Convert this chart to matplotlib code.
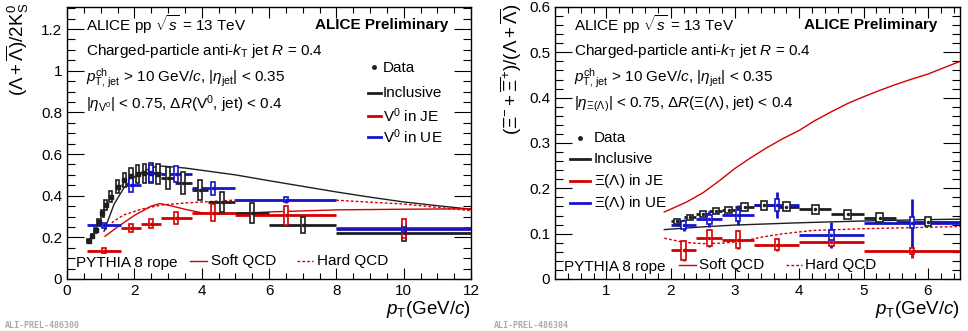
import matplotlib
matplotlib.use('Agg')
import matplotlib.pyplot as plt
from matplotlib.patches import Rectangle
from matplotlib.ticker import MultipleLocator
import numpy as np

plt.rcParams['font.family'] = ['Liberation Sans', 'DejaVu Sans']
plt.rcParams['mathtext.fontset'] = 'custom'
plt.rcParams['mathtext.rm'] = 'Liberation Sans'
plt.rcParams['mathtext.it'] = 'Liberation Sans:italic'
plt.rcParams['mathtext.bf'] = 'Liberation Sans:bold'

BLACK = '#1e1e1e'
RED = '#d40000'
BLUE = '#1414cc'

# ---------------- left panel: Lambda / 2K0S ----------------
# inclusive, fine low-pT bins
x_inc_lo = [0.65, 0.75, 0.85, 0.95, 1.05, 1.15, 1.3, 1.5, 1.7, 1.9, 2.1, 2.3, 2.5, 2.7]
y_inc_lo = [0.183, 0.206, 0.235, 0.275, 0.315, 0.355, 0.395, 0.443, 0.475, 0.494, 0.504, 0.507, 0.510, 0.504]
s_inc_lo = [0.008, 0.01, 0.012, 0.015, 0.018, 0.022, 0.026, 0.03, 0.034, 0.038, 0.042, 0.045, 0.047, 0.048]
# inclusive, wide high-pT bins
x_inc_hi = [3.0, 3.45, 3.95, 4.6, 5.5, 7.0, 10.0]
xe_inc_hi = [0.2, 0.25, 0.25, 0.4, 0.5, 1.0, 2.0]
y_inc_hi = [0.485, 0.46, 0.427, 0.371, 0.315, 0.26, 0.222]
e_inc_hi = [0.008, 0.008, 0.01, 0.01, 0.012, 0.015, 0.02]
s_inc_hi = [0.055, 0.052, 0.05, 0.048, 0.048, 0.04, 0.04]
# V0 in JE / UE
x_v0 = [1.1, 1.9, 2.5, 3.25, 4.35, 6.5, 10.0]
xe_v0 = [0.5, 0.3, 0.3, 0.45, 0.65, 1.5, 2.0]
y_v0_ue = [0.257, 0.452, 0.507, 0.504, 0.435, 0.380, 0.239]
e_v0_ue = [0.008, 0.01, 0.01, 0.012, 0.015, 0.015, 0.025]
s_v0_ue = [0.01, 0.035, 0.042, 0.04, 0.032, 0.012, 0.012]
y_v0_je = [0.136, 0.244, 0.266, 0.293, 0.318, 0.306, 0.243]
e_v0_je = [0.005, 0.008, 0.01, 0.012, 0.015, 0.02, 0.03]
s_v0_je = [0.012, 0.018, 0.02, 0.03, 0.04, 0.045, 0.045]
# PYTHIA 8 rope
x_py_inc = [1.1, 1.4, 1.7, 2.0, 2.3, 2.7, 3.0, 3.5, 4.0, 5.0, 6.0, 7.0, 8.0, 9.0, 10.0, 11.0, 12.0]
y_py_inc = [0.23, 0.36, 0.44, 0.49, 0.52, 0.543, 0.54, 0.533, 0.522, 0.5, 0.472, 0.445, 0.418, 0.393, 0.37, 0.352, 0.335]
x_py_soft = [1.13, 1.5, 2.0, 2.5, 2.75, 3.0, 3.5, 4.0, 4.5, 5.0, 6.0, 8.0, 10.0, 12.0]
y_py_soft = [0.205, 0.25, 0.305, 0.35, 0.362, 0.355, 0.335, 0.318, 0.312, 0.314, 0.322, 0.332, 0.335, 0.337]
x_py_hard = [1.13, 1.4, 1.7, 2.2, 2.8, 3.6, 5.0, 8.0, 10.0, 12.0]
y_py_hard = [0.235, 0.28, 0.308, 0.335, 0.355, 0.366, 0.379, 0.378, 0.36, 0.328]

# ---------------- right panel: Xi / Lambda ----------------
x_xi_inc = [2.1, 2.3, 2.5, 2.7, 2.9, 3.15, 3.45, 3.8, 4.25, 4.75, 5.25, 6.0]
xe_xi_inc = [0.1, 0.1, 0.1, 0.1, 0.1, 0.15, 0.15, 0.2, 0.25, 0.25, 0.25, 0.5]
y_xi_inc = [0.127, 0.136, 0.143, 0.150, 0.152, 0.159, 0.163, 0.159, 0.154, 0.143, 0.135, 0.126]
e_xi_inc = [0.003, 0.003, 0.003, 0.003, 0.003, 0.004, 0.004, 0.004, 0.005, 0.005, 0.006, 0.007]
s_xi_inc = [0.006, 0.006, 0.006, 0.007, 0.007, 0.008, 0.01, 0.01, 0.01, 0.01, 0.01, 0.01]
x_xi = [2.2, 2.6, 3.05, 3.65, 4.5, 5.75]
xe_xi = [0.2, 0.2, 0.25, 0.35, 0.5, 0.75]
y_xi_ue = [0.119, 0.132, 0.141, 0.163, 0.097, 0.124]
e_xi_ue = [0.013, 0.018, 0.022, 0.029, 0.028, 0.052]
s_xi_ue = [0.008, 0.01, 0.012, 0.014, 0.01, 0.012]
y_xi_je = [0.063, 0.091, 0.087, 0.076, 0.081, 0.062]
e_xi_je = [0.024, 0.02, 0.02, 0.014, 0.01, 0.016]
s_xi_je = [0.02, 0.018, 0.018, 0.012, 0.008, 0.006]
x_xpy_soft = [1.9, 2.0, 2.25, 2.5, 2.75, 3.0, 3.25, 3.5, 3.75, 4.0, 4.25, 4.5, 4.75, 5.0, 5.25, 5.5, 5.75, 6.0, 6.25, 6.5]
y_xpy_soft = [0.148, 0.154, 0.17, 0.19, 0.216, 0.244, 0.268, 0.29, 0.31, 0.328, 0.35, 0.369, 0.387, 0.402, 0.416, 0.429, 0.441, 0.452, 0.466, 0.48]
x_xpy_inc = [1.9, 2.5, 3.0, 4.0, 5.0, 6.0, 6.5]
y_xpy_inc = [0.109, 0.115, 0.119, 0.124, 0.128, 0.131, 0.132]
x_xpy_hard = [1.9, 2.2, 2.5, 2.8, 3.1, 3.4, 3.7, 4.2, 5.0, 6.0, 6.5]
y_xpy_hard = [0.09, 0.081, 0.078, 0.079, 0.083, 0.092, 0.099, 0.107, 0.111, 0.114, 0.116]


def draw_points(ax, x, y, yerr, syst, color, xerr=None, bw=0.1, marker='o', ms=1.5):
    # stat. errors below, syst. boxes (white inside) on top, marker on top of all
    ax.errorbar(x, y, xerr=xerr, yerr=yerr, fmt='none', ecolor=color,
                elinewidth=2.0, capsize=0, zorder=4)
    for xi, yi, si in zip(x, y, syst):
        ax.add_patch(Rectangle((xi - bw / 2, yi - si), bw, 2 * si, facecolor='white',
                               edgecolor=color, lw=1.2, zorder=5))
    ax.plot(x, y, marker, color=color, ms=ms, zorder=6)


def style_axes(ax):
    ax.tick_params(which='both', direction='in', top=True, right=True, labelsize=11)
    ax.tick_params(which='major', axis='y', length=12, width=0.8)
    ax.tick_params(which='minor', axis='y', length=6, width=0.8)
    ax.tick_params(which='major', axis='x', length=8, width=0.8)
    ax.tick_params(which='minor', axis='x', length=4, width=0.8)
    for sp in ax.spines.values():
        sp.set_linewidth(1.0)


fig = plt.figure(figsize=(9.68, 3.31), dpi=100)
axL = fig.add_axes([67 / 968, 52 / 331, 404 / 968, 272 / 331])
axR = fig.add_axes([555 / 968, 52 / 331, 405 / 968, 272 / 331])

# left panel
axL.plot(x_py_inc, y_py_inc, color=BLACK, lw=1.0, zorder=2)
axL.plot(x_py_soft, y_py_soft, color=RED, lw=1.0, zorder=2)
axL.plot(x_py_hard, y_py_hard, color=RED, lw=1.0, ls=(0, (2, 1.5)), zorder=2)
draw_points(axL, x_inc_lo, y_inc_lo, None, s_inc_lo, BLACK, bw=0.1, marker='s', ms=3)
draw_points(axL, x_inc_hi, y_inc_hi, e_inc_hi, s_inc_hi, BLACK, xerr=xe_inc_hi, bw=0.12)
draw_points(axL, x_v0, y_v0_je, e_v0_je, s_v0_je, RED, xerr=xe_v0, bw=0.12)
draw_points(axL, x_v0, y_v0_ue, e_v0_ue, s_v0_ue, BLUE, xerr=xe_v0, bw=0.12)
axL.set_xlim(0, 12)
axL.set_ylim(0, 1.306)
axL.xaxis.set_major_locator(MultipleLocator(2))
axL.xaxis.set_minor_locator(MultipleLocator(0.5))
axL.yaxis.set_minor_locator(MultipleLocator(0.05))
axL.set_yticks([0, 0.2, 0.4, 0.6, 0.8, 1.0, 1.2])
axL.set_yticklabels(['0', '0.2', '0.4', '0.6', '0.8', '1', '1.2'])
style_axes(axL)

# right panel
axR.plot(x_xpy_soft, y_xpy_soft, color=RED, lw=1.0, zorder=2)
axR.plot(x_xpy_inc, y_xpy_inc, color=BLACK, lw=1.0, zorder=2)
axR.plot(x_xpy_hard, y_xpy_hard, color=RED, lw=1.0, ls=(0, (2, 1.5)), zorder=2)
draw_points(axR, x_xi_inc, y_xi_inc, e_xi_inc, s_xi_inc, BLACK, xerr=xe_xi_inc, bw=0.1)
draw_points(axR, x_xi, y_xi_je, e_xi_je, s_xi_je, RED, xerr=xe_xi, bw=0.07)
draw_points(axR, x_xi, y_xi_ue, e_xi_ue, s_xi_ue, BLUE, xerr=xe_xi, bw=0.07)
axR.set_xlim(0.2, 6.5)
axR.set_ylim(0, 0.6)
axR.xaxis.set_major_locator(MultipleLocator(1))
axR.xaxis.set_minor_locator(MultipleLocator(0.2))
axR.yaxis.set_minor_locator(MultipleLocator(0.02))
axR.set_yticks([0, 0.1, 0.2, 0.3, 0.4, 0.5, 0.6])
axR.set_yticklabels(['0', '0.1', '0.2', '0.3', '0.4', '0.5', '0.6'])
style_axes(axR)

fs = 11
for ax, eta_txt in [(axL, r'$|\eta_{\rm V^0}|$ < 0.75, $\Delta R$(V$^0$, jet) < 0.4'),
                    (axR, r'$|\eta_{\Xi(\Lambda)}|$ < 0.75, $\Delta R$($\Xi(\Lambda)$, jet) < 0.4')]:
    t = ax.transAxes
    ax.text(0.047, 0.934, r'ALICE pp $\sqrt{s}$ = 13 TeV', transform=t, fontsize=fs, va='center')
    ax.text(0.945, 0.934, 'ALICE Preliminary', transform=t, fontsize=fs, va='center',
            ha='right', fontweight='bold')
    ax.text(0.047, 0.838, r'Charged-particle anti-$k_{\rm T}$ jet $R$ = 0.4', transform=t,
            fontsize=fs, va='center')
    ax.text(0.047, 0.738, r'$p_{\rm T,\,jet}^{\rm ch}$ > 10 GeV/$c$, $|\eta_{\rm jet}|$ < 0.35',
            transform=t, fontsize=fs, va='center')
    ax.text(0.047, 0.643, eta_txt, transform=t, fontsize=fs, va='center')

# left legend
t = axL.transAxes
axL.plot([0.761], [0.78], 'o', color=BLACK, ms=2.5, transform=t, clip_on=False)
axL.text(0.782, 0.776, 'Data', transform=t, fontsize=fs, va='center')
leg_rows = [(0.684, BLACK, 'Inclusive'), (0.599, RED, r'V$^0$ in JE'), (0.522, BLUE, r'V$^0$ in UE')]
for yy, c, lab in leg_rows:
    axL.plot([0.745, 0.777], [yy, yy], color=c, lw=2.0, transform=t)
    axL.text(0.782, yy, lab, transform=t, fontsize=fs, va='center')
axL.text(0.022, 0.059, 'PYTHIA 8 rope', transform=t, fontsize=fs, va='center')
axL.plot([0.304, 0.347], [0.066, 0.066], color=RED, lw=1.0, transform=t)
axL.text(0.356, 0.066, 'Soft QCD', transform=t, fontsize=fs, va='center')
axL.plot([0.569, 0.609], [0.066, 0.066], color=RED, lw=1.0, ls=(0, (2, 1.5)), transform=t)
axL.text(0.619, 0.066, 'Hard QCD', transform=t, fontsize=fs, va='center')

# right legend
t = axR.transAxes
axR.plot([0.062], [0.518], 'o', color=BLACK, ms=2.5, transform=t)
axR.text(0.096, 0.518, 'Data', transform=t, fontsize=fs, va='center')
leg_rows = [(0.441, BLACK, 'Inclusive'), (0.360, RED, r'$\Xi(\Lambda)$ in JE'),
            (0.279, BLUE, r'$\Xi(\Lambda)$ in UE')]
for yy, c, lab in leg_rows:
    axR.plot([0.037, 0.086], [yy, yy], color=c, lw=2.0, transform=t)
    axR.text(0.096, yy, lab, transform=t, fontsize=fs, va='center')
axR.text(0.022, 0.044, 'PYTHIA 8 rope', transform=t, fontsize=fs, va='center')
axR.plot([0.306, 0.348], [0.05, 0.05], color=RED, lw=1.0, transform=t)
axR.text(0.356, 0.05, 'Soft QCD', transform=t, fontsize=fs, va='center')
axR.plot([0.570, 0.610], [0.05, 0.05], color=RED, lw=1.0, ls=(0, (2, 1.5)), transform=t)
axR.text(0.617, 0.05, 'Hard QCD', transform=t, fontsize=fs, va='center')

# axis titles (ROOT style, at the axis ends)
fig.text(18 / 968, 1 - 3 / 331, r'$(\Lambda + \overline{\Lambda})/2{\rm K}^0_{\rm S}$',
         rotation=90, ha='center', va='top', fontsize=13.5)
fig.text(511 / 968, 1 - 3 / 331, r'$(\Xi^{-} + \overline{\Xi}^{+})/(\Lambda + \overline{\Lambda})$',
         rotation=90, ha='center', va='top', fontsize=13.5)
fig.text(471 / 968, 1 - 309 / 331, r'$p_{\rm T}$(GeV/$c$)', ha='right', va='center', fontsize=13.5)
fig.text(960 / 968, 1 - 309 / 331, r'$p_{\rm T}$(GeV/$c$)', ha='right', va='center', fontsize=13.5)
fig.text(5 / 968, 1 - 325 / 331, 'ALI-PREL-486300', fontsize=6, color='#aaaaaa',
         family='DejaVu Sans Mono', va='center', fontweight='bold')
fig.text(494 / 968, 1 - 325 / 331, 'ALI-PREL-486304', fontsize=6, color='#aaaaaa',
         family='DejaVu Sans Mono', va='center', fontweight='bold')

fig.savefig('out.png', dpi=100)
